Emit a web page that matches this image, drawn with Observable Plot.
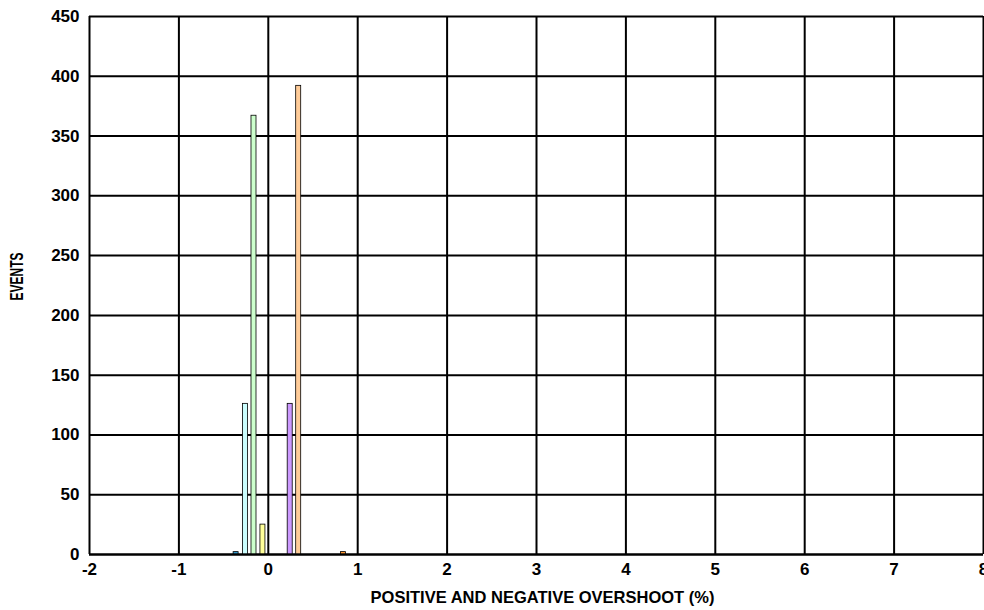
<!DOCTYPE html>
<html>
<head>
<meta charset="utf-8">
<script src="https://cdn.jsdelivr.net/npm/d3@7"></script>
<script src="https://cdn.jsdelivr.net/npm/@observablehq/plot@0.6"></script>
<style>
  html, body { margin: 0; padding: 0; background: #fff; overflow: hidden; }
  #chart svg { display: block; font-family: "Liberation Sans", Arial, sans-serif; }
</style>
</head>
<body>
<div id="chart"></div>
<script>
// Data
const binCenters = [-0.36, -0.255, -0.16, -0.06, 0.245, 0.34, 0.84]; // overshoot (%)
const events     = [2, 126, 367, 25, 126, 392, 2];
const barColors  = ["#3399cc", "#ccffff", "#ccffcc", "#ffff99", "#cc99ff", "#ffcc99", "#ff9933"];
const xTicks = [-2, -1, 0, 1, 2, 3, 4, 5, 6, 7, 8];
const yTicks = [0, 50, 100, 150, 200, 250, 300, 350, 400, 450];
const xLabel = "POSITIVE AND NEGATIVE OVERSHOOT (%)";
const yLabel = "EVENTS";

const halfWidth = 0.028;
const bars = binCenters.map((c, i) => ({x1: c - halfWidth, x2: c + halfWidth, y: events[i], color: barColors[i]}));

const chart = Plot.plot({
  width: 984,
  height: 610,
  marginLeft: 89,
  marginRight: 1,
  marginTop: 16,
  marginBottom: 56,
  style: {fontFamily: '"Liberation Sans", Arial, sans-serif', fontSize: "16px", fontWeight: "bold", overflow: "visible", color: "#000"},
  x: {domain: [-2, 8]},
  y: {domain: [0, 450]},
  marks: [
    Plot.ruleX(xTicks, {stroke: "#000", strokeWidth: 2}),
    Plot.ruleY(yTicks, {stroke: "#000", strokeWidth: 2}),
    Plot.rectY(bars, {x1: "x1", x2: "x2", y1: 0, y2: "y", fill: "color", stroke: "#000", strokeWidth: 0.8}),
    Plot.ruleY([0], {stroke: "#000", strokeWidth: 2}),
    Plot.axisX(xTicks, {tickSize: 0, tickPadding: 8, label: null, tickFormat: d => `${d}`, fontWeight: "bold", fontSize: 17}),
    Plot.axisY(yTicks, {tickSize: 0, tickPadding: 10, label: null, tickFormat: d => `${d}`, fontWeight: "bold", fontSize: 17}),
    Plot.text([xLabel], {frameAnchor: "bottom", dx: 6, dy: 43, text: d => d, fontWeight: "bold", fontSize: 16.5, lineAnchor: "middle"}),
    Plot.text([yLabel], {frameAnchor: "left", dx: -72, dy: -9, rotate: -90, text: d => d, textAnchor: "middle", fontWeight: "bold", fontSize: 18, lineAnchor: "middle", className: "ylabel"})
  ]
});
document.getElementById("chart").appendChild(chart);
// The reference draws the rotated axis title condensed
d3.select(chart).selectAll("g.ylabel text").attr("textLength", 48).attr("lengthAdjust", "spacingAndGlyphs");
</script>
</body>
</html>
